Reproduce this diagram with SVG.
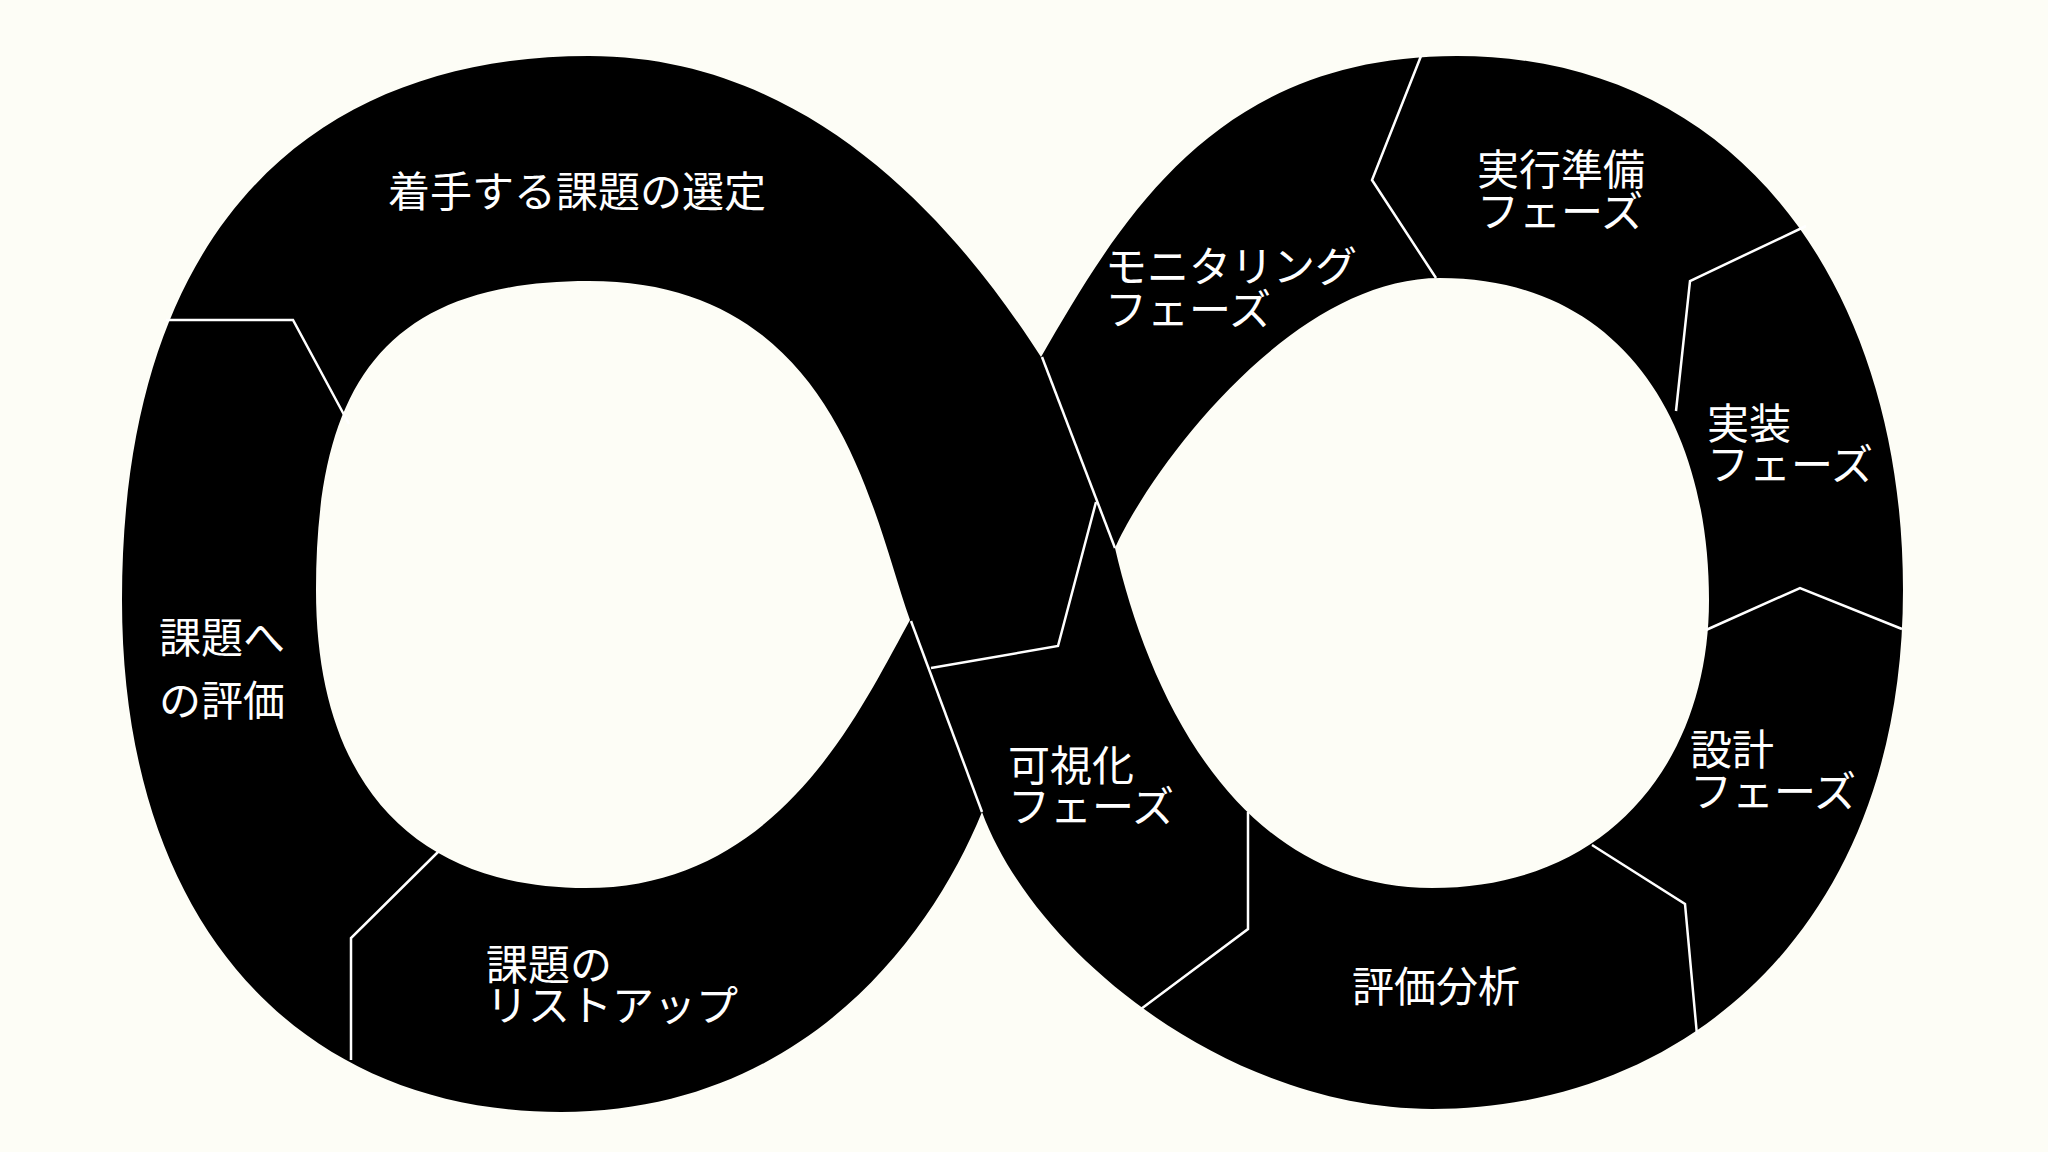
<svg xmlns="http://www.w3.org/2000/svg" width="2048" height="1152" viewBox="0 0 2048 1152">
  <style>
    .band { fill: #000000; fill-rule: evenodd; }
    .div { fill: none; stroke: #FFFFFF; stroke-width: 2.5; stroke-linejoin: miter; }
    .lbl { fill: #FFFFFF; font-family: "Noto Sans CJK JP", "Noto Sans", sans-serif; font-size: 42px; font-weight: 400; }
  </style>
  <rect x="0" y="0" width="2048" height="1152" fill="#FDFDF6"/>
  <g id="infinity">
    <path class="band" d="M 1041,357 C 965,239 819,56 589,56 C 329,56 122,210 122,600 C 122,925 300,1112 561,1112 C 800,1112 930,940 982,812 C 1035,955 1230,1109 1432,1109 C 1682,1109 1903,930 1903,590 C 1903,290 1740,56 1457,56 C 1217,56 1122,217 1041,357 Z M 589,281 C 380,281 316,390 316,590 C 316,790 420,888 586,888 C 780,888 860,710 910,620 C 870,507 835,281 589,281 Z M 1440,278 C 1290,278 1150,470 1115,548 C 1150,700 1240,888 1432,888 C 1610,888 1709,760 1709,600 C 1709,420 1620,278 1440,278 Z"/>
  </g>
  <g id="connectors">
    <polyline class="div" points="166,320 293,320 349,424"/>
    <polyline class="div" points="439,851 351,938 351,1060"/>
    <polyline class="div" points="1096,502 1058,646 931,668"/>
    <line class="div" x1="1042" y1="357" x2="1115" y2="548"/>
    <line class="div" x1="911" y1="621" x2="982" y2="812"/>
    <polyline class="div" points="1248,812 1248,929 1141,1009"/>
    <polyline class="div" points="1592,845 1685,904 1697,1035"/>
    <polyline class="div" points="1706,630 1800,588 1902,629"/>
    <polyline class="div" points="1806,226 1690,281 1676,411"/>
    <polyline class="div" points="1421,56 1372,180 1436,278"/>
  </g>
  <g id="node-sentaku">
    <text class="lbl" x="577" y="207" text-anchor="middle">着手する課題の選定</text>
  </g>
  <g id="node-hyouka">
    <text class="lbl"><tspan x="159" y="653">課題へ</tspan><tspan x="159" y="716">の評価</tspan></text>
  </g>
  <g id="node-listup">
    <text class="lbl"><tspan x="486" y="980">課題の</tspan><tspan x="486" y="1021">リストアップ</tspan></text>
  </g>
  <g id="node-kashika">
    <text class="lbl"><tspan x="1008" y="781">可視化</tspan><tspan x="1008" y="822">フェーズ</tspan></text>
  </g>
  <g id="node-bunseki">
    <text class="lbl" x="1436" y="1002" text-anchor="middle">評価分析</text>
  </g>
  <g id="node-sekkei">
    <text class="lbl"><tspan x="1690" y="765">設計</tspan><tspan x="1690" y="807">フェーズ</tspan></text>
  </g>
  <g id="node-jissou">
    <text class="lbl"><tspan x="1707" y="439">実装</tspan><tspan x="1707" y="480">フェーズ</tspan></text>
  </g>
  <g id="node-junbi">
    <text class="lbl"><tspan x="1477" y="185">実行準備</tspan><tspan x="1477" y="227">フェーズ</tspan></text>
  </g>
  <g id="node-monitoring">
    <text class="lbl"><tspan x="1105" y="282">モニタリング</tspan><tspan x="1105" y="325">フェーズ</tspan></text>
  </g>
</svg>
